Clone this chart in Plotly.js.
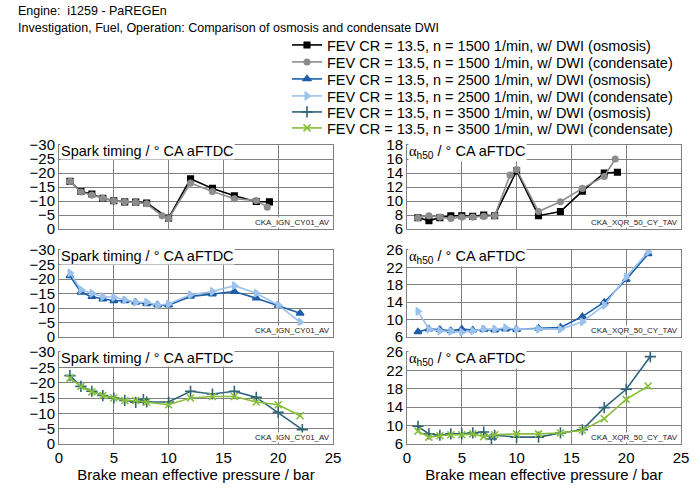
<!DOCTYPE html>
<html>
<head>
<meta charset="utf-8">
<script src="https://cdn.plot.ly/plotly-3.0.1.min.js"></script>
<style>
  html, body { margin: 0; padding: 0; background: #fff; }
  #chart { width: 700px; height: 488px; }
</style>
</head>
<body>
<div id="chart"></div>
<script>
// data (BMEP in bar, angles in deg CA aFTDC)
const seriesNames = [
  'FEV CR = 13.5, n = 1500 1/min, w/ DWI (osmosis)',
  'FEV CR = 13.5, n = 1500 1/min, w/ DWI (condensate)',
  'FEV CR = 13.5, n = 2500 1/min, w/ DWI (osmosis)',
  'FEV CR = 13.5, n = 2500 1/min, w/ DWI (condensate)',
  'FEV CR = 13.5, n = 3500 1/min, w/ DWI (osmosis)',
  'FEV CR = 13.5, n = 3500 1/min, w/ DWI (condensate)'
];

const bmep1500Osm = [1, 2, 3, 4, 5, 6, 7, 8, 10, 12, 14, 16, 18, 19.2];
const ign1500Osm = [-17.0, -13.4, -12.5, -11.0, -10.1, -9.7, -9.6, -9.3, -3.9, -17.9, -14.5, -11.9, -9.8, -9.7];
const ah50_1500Osm = [7.6, 7.2, 7.6, 7.9, 7.9, 7.8, 8.0, 7.9, 14.3, 7.9, 8.5, 11.4, 14.0, 14.1];

const bmep1500Cond = [1, 2, 3, 4, 5, 6, 7, 8, 9.4, 10, 12, 14, 16, 18, 19];
const ign1500Cond = [-17.0, -13.2, -12.1, -11.0, -10.1, -9.7, -9.5, -9.0, -4.7, -3.7, -16.4, -13.4, -10.8, -10.2, -7.8];
const ah50_1500Cond = [7.6, 7.9, 7.7, 7.5, 7.7, 7.7, 7.8, 7.9, 13.7, 14.5, 8.5, 9.9, 11.8, 13.5, 16.0];

const bmep2500Osm = [1, 2, 3, 4, 5, 6, 7, 8, 9, 10, 12, 14, 16, 18, 20, 22];
const ign2500Osm = [-21.1, -15.4, -13.9, -13.1, -12.5, -12.5, -12.0, -11.4, -11.0, -11.0, -14.0, -14.8, -15.7, -13.4, -10.8, -8.2];
const ah50_2500Osm = [7.2, 7.8, 7.7, 7.4, 7.8, 7.6, 7.7, 7.6, 7.8, 7.7, 8.0, 8.2, 10.7, 14.0, 19.2, 25.1];

const bmep2500Cond = [1, 2, 3, 4, 5, 6, 7, 8, 9, 10, 12, 14, 16, 18, 20, 22];
const ign2500Cond = [-22.1, -16.3, -15.1, -13.9, -13.7, -12.8, -12.0, -12.0, -11.0, -11.4, -14.6, -15.7, -17.7, -15.1, -11.0, -5.1];
const ah50_2500Cond = [11.9, 7.8, 7.4, 7.3, 7.1, 7.4, 7.8, 7.8, 8.1, 7.8, 7.8, 7.8, 9.5, 13.3, 19.8, 25.6];

const bmep3500Osm = [1, 2, 3, 4, 5, 6, 7, 7.7, 8, 10, 12, 14, 16, 18, 20, 22.2];
const ign3500Osm = [-22.3, -18.8, -17.2, -15.8, -15.0, -14.2, -13.6, -14.5, -13.7, -13.7, -17.2, -16.3, -17.2, -15.2, -10.3, -4.7];
const ah50_3500Osm = [9.85, 8.2, 7.9, 8.2, 8.2, 8.4, 8.6, 7.1, 7.9, 7.5, 7.5, 8.4, 9.1, 13.9, 17.9, 25.0];

const bmep3500Cond = [1, 2, 3, 4, 5, 6, 7, 8, 10, 12, 14, 16, 18, 20, 22];
const ign3500Cond = [-21.5, -18.8, -17.0, -15.8, -15.0, -14.2, -14.2, -13.6, -12.8, -15.0, -15.5, -15.5, -13.7, -12.8, -9.2];
const ah50_3500Cond = [8.8, 7.5, 7.8, 8.0, 8.0, 8.2, 7.6, 8.0, 8.2, 8.2, 8.4, 9.0, 11.5, 15.7, 18.6];

const FONT = 'Liberation Sans, Arial, sans-serif';
const GRID = '#808080';

// style per series: colour, marker symbol, marker size
const styles = [
  { color: '#000000', symbol: 'square', size: 5.5 },
  { color: '#8c8c8c', symbol: 'circle', size: 5.5 },
  { color: '#1c5ea8', symbol: 'triangle-up', size: 6.5 },
  { color: '#9cc2ec', symbol: 'triangle-right', size: 6.5 },
  { color: '#2f6577', symbol: 'cross-thin-open', size: 8 },
  { color: '#88bf3a', symbol: 'x-thin-open', size: 7 }
];

const legendRows = [45, 62, 79, 96, 112, 128];

const line = (i, x, y, xa, ya, showInLegend) => ({
  x: x, y: y, xaxis: xa, yaxis: ya,
  type: 'scatter', mode: 'lines+markers',
  name: seriesNames[i],
  legendgroup: 'g' + i,
  legend: i === 0 ? 'legend' : 'legend' + (i + 1),
  showlegend: showInLegend,
  line: { color: styles[i].color, width: 1.6 },
  marker: { color: styles[i].color, symbol: styles[i].symbol, size: styles[i].size,
            line: { color: styles[i].color, width: 1.6 } }
});

const data = [
  line(0, bmep1500Osm, ign1500Osm, 'x', 'y', true),
  line(1, bmep1500Cond, ign1500Cond, 'x', 'y', true),
  line(0, bmep1500Osm, ah50_1500Osm, 'x2', 'y2', false),
  line(1, bmep1500Cond, ah50_1500Cond, 'x2', 'y2', false),
  line(2, bmep2500Osm, ign2500Osm, 'x3', 'y3', true),
  line(3, bmep2500Cond, ign2500Cond, 'x3', 'y3', true),
  line(2, bmep2500Osm, ah50_2500Osm, 'x4', 'y4', false),
  line(3, bmep2500Cond, ah50_2500Cond, 'x4', 'y4', false),
  line(4, bmep3500Osm, ign3500Osm, 'x5', 'y5', true),
  line(5, bmep3500Cond, ign3500Cond, 'x5', 'y5', true),
  line(4, bmep3500Osm, ah50_3500Osm, 'x6', 'y6', false),
  line(5, bmep3500Cond, ah50_3500Cond, 'x6', 'y6', false)
];

const px = v => v / 700;
const py = v => 1 - v / 488;

const LEFT = [px(59), px(333)];
const RIGHT = [px(407), px(681)];
const ROWS = [[py(229), py(145)], [py(337), py(250)], [py(444), py(352)]];

const xAxis = (dom, anchor, last) => ({
  domain: dom, anchor: anchor, range: [0, 25], dtick: 5,
  showgrid: true, gridcolor: GRID, gridwidth: 1,
  showline: true, linecolor: GRID, mirror: true, zeroline: false,
  showticklabels: last, ticks: '',
  tickfont: { family: FONT, size: 15, color: '#000' },
  title: last ? { text: 'Brake mean effective pressure / bar', font: { family: FONT, size: 15, color: '#000' }, standoff: 4 } : { text: '' }
});

const yAxis = (dom, anchor, range, dtick, tick0) => ({
  domain: dom, anchor: anchor, range: range, dtick: dtick, tick0: tick0,
  showgrid: true, gridcolor: GRID, gridwidth: 1,
  showline: true, linecolor: GRID, mirror: true, zeroline: false,
  ticks: '', tickfont: { family: FONT, size: 15, color: '#000' }
});

const legends = {};
legendRows.forEach((yy, i) => {
  legends[i === 0 ? 'legend' : 'legend' + (i + 1)] = {
    x: px(287), xanchor: 'left', y: py(yy), yanchor: 'middle',
    bgcolor: 'rgba(0,0,0,0)', borderwidth: 0,
    font: { family: FONT, size: 14.5, color: '#000' }
  };
});

const panelLabel = (xr, yr, text) => ({
  xref: xr + ' domain', yref: yr + ' domain', x: 0, y: 1,
  xanchor: 'left', yanchor: 'top', yshift: 3, xshift: 1,
  text: text, showarrow: false, bgcolor: '#fff', borderpad: 0,
  font: { family: FONT, size: 14.5, color: '#000' }
});
const tagLabel = (xr, yr, text) => ({
  xref: xr + ' domain', yref: yr + ' domain', x: 1, y: 0,
  xanchor: 'right', yanchor: 'bottom', xshift: -2, yshift: 1,
  text: text, showarrow: false, bgcolor: '#fff', borderpad: 0,
  font: { family: FONT, size: 8, color: '#222' }
});

const ahText = '<span style="font-family:Liberation Serif, serif">α</span><sub>h50</sub> / ° CA aFTDC';
const spText = 'Spark timing / ° CA aFTDC';

const layout = Object.assign({
  width: 700, height: 488,
  margin: { l: 0, r: 0, t: 0, b: 0 },
  paper_bgcolor: '#fff', plot_bgcolor: '#fff',
  font: { family: FONT, color: '#000' },
  xaxis: xAxis(LEFT, 'y', false),
  yaxis: yAxis(ROWS[0], 'x', [0, -30], 5, 0),
  xaxis2: xAxis(RIGHT, 'y2', false),
  yaxis2: yAxis(ROWS[0], 'x2', [6, 18], 2, 6),
  xaxis3: xAxis(LEFT, 'y3', false),
  yaxis3: yAxis(ROWS[1], 'x3', [0, -30], 5, 0),
  xaxis4: xAxis(RIGHT, 'y4', false),
  yaxis4: yAxis(ROWS[1], 'x4', [6, 26], 4, 6),
  xaxis5: xAxis(LEFT, 'y5', true),
  yaxis5: yAxis(ROWS[2], 'x5', [0, -30], 5, 0),
  xaxis6: xAxis(RIGHT, 'y6', true),
  yaxis6: yAxis(ROWS[2], 'x6', [6, 26], 4, 6),
  annotations: [
    { xref: 'paper', yref: 'paper', x: px(16), y: py(11), xanchor: 'left', yanchor: 'middle',
      text: 'Engine:  i1259 - PaREGEn', showarrow: false, font: { family: FONT, size: 12.5, color: '#000' } },
    { xref: 'paper', yref: 'paper', x: px(16), y: py(28), xanchor: 'left', yanchor: 'middle',
      text: 'Investigation, Fuel, Operation: Comparison of osmosis and condensate DWI', showarrow: false,
      font: { family: FONT, size: 12.5, color: '#000' } },
    panelLabel('x', 'y', spText), panelLabel('x2', 'y2', ahText),
    panelLabel('x3', 'y3', spText), panelLabel('x4', 'y4', ahText),
    panelLabel('x5', 'y5', spText), panelLabel('x6', 'y6', ahText),
    tagLabel('x', 'y', 'CKA_IGN_CY01_AV'), tagLabel('x2', 'y2', 'CKA_XQR_50_CY_TAV'),
    tagLabel('x3', 'y3', 'CKA_IGN_CY01_AV'), tagLabel('x4', 'y4', 'CKA_XQR_50_CY_TAV'),
    tagLabel('x5', 'y5', 'CKA_IGN_CY01_AV'), tagLabel('x6', 'y6', 'CKA_XQR_50_CY_TAV')
  ]
}, legends);

Plotly.newPlot('chart', data, layout, { displayModeBar: false, staticPlot: true });
</script>
</body>
</html>
